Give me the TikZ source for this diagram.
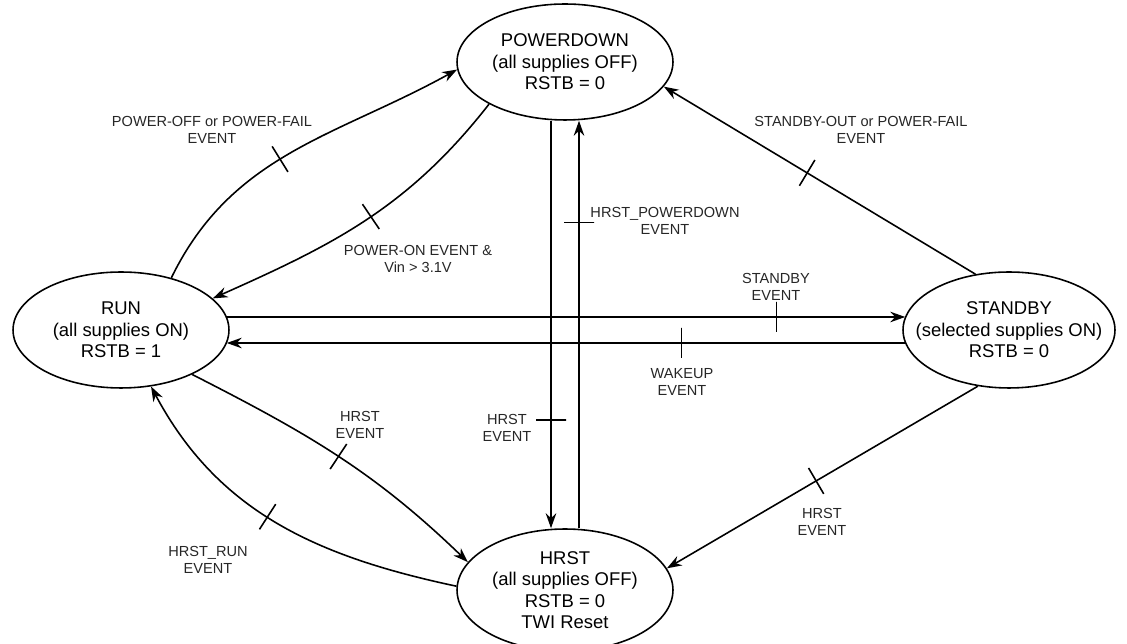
\documentclass[tikz,border=0pt]{standalone}
\usepackage{fontspec}
\setmainfont{Liberation Sans}
\usetikzlibrary{arrows.meta,shapes.geometric}

\begin{document}
\begin{tikzpicture}
[x=0.02cm,y=0.02cm,line width=0.9pt,
	state/.style={ellipse,draw,align=center,inner sep=0pt,minimum width=4.32cm,minimum height=2.32cm,font=\fontsize{10.5}{12.2}\selectfont},
	evt/.style={align=center,text=black!85,font=\fontsize{8.3}{9.6}\selectfont},
	crossbar/.style={sloped,draw,rectangle,inner sep=0pt,minimum width=0pt,minimum height=0.6cm},
	>={Stealth[length=8.5pt,width=6pt]}]
\useasboundingbox (0,0) rectangle (1127,-644);

\node[state] (pd) at (565,-62) {POWERDOWN\\(all supplies OFF)\\RSTB = 0};
\node[state] (run) at (121,-330) {RUN\\(all supplies ON)\\RSTB = 1};
\node[state,minimum width=4.24cm,inner xsep=-11pt] (sb) at (1009,-330) {STANDBY\\(selected supplies ON)\\RSTB = 0};
\node[state,minimum height=2.44cm] (hrst) at (565,-590) {HRST\\(all supplies OFF)\\RSTB = 0\\TWI Reset};

\draw[->] (run.46) to[out=64,in=209] node[crossbar,pos=0.46]{} (pd.184);
\draw[->] (pd.209) to[out=232,in=24] node[crossbar,pos=0.48]{} (run.19);
\draw[->] (sb.121) -- node[crossbar,pos=0.54]{} (pd.-14);
\draw[->] ([shift={(-3,13)}]run.east) -- node[crossbar,pos=0.81]{} ([shift={(3,13)}]sb.west);
\draw[->] ([shift={(3,-13)}]sb.west) -- node[crossbar,pos=0.33]{} ([shift={(-3,-13)}]run.east);
\draw[->] ([shift={(-14,0)}]pd.south) -- node[crossbar,pos=0.735]{} ([shift={(-14,0)}]hrst.north);
\draw[->] ([shift={(14,0)}]hrst.north) -- node[crossbar,pos=0.75]{} ([shift={(14,0)}]pd.south);
\draw[->] (run.-32) to[out=-27,in=136] node[crossbar,pos=0.5]{} (hrst.164);
\draw[->] (hrst.178) to[out=168,in=298] node[crossbar,pos=0.53]{} (run.-62);
\draw[->] (sb.241) -- node[crossbar,pos=0.52]{} (hrst.12);

\node[evt] (offlbl) at (212,-130) {POWER-OFF or POWER-FAIL\\EVENT};
\node[evt] (onlbl) at (418,-259) {POWER-ON EVENT \&\\Vin > 3.1V};
\node[evt] (sboutlbl) at (861,-130) {STANDBY-OUT or POWER-FAIL\\EVENT};
\node[evt] (hpdlbl) at (665,-221) {HRST\_POWERDOWN\\EVENT};
\node[evt] (sblbl) at (776,-287) {STANDBY\\EVENT};
\node[evt] (wakelbl) at (682,-382) {WAKEUP\\EVENT};
\node[evt] (hmidlbl) at (507,-428) {HRST\\EVENT};
\node[evt] (hleftlbl) at (360,-425) {HRST\\EVENT};
\node[evt] (hrunlbl) at (208,-560) {HRST\_RUN\\EVENT};
\node[evt] (hrightlbl) at (822,-522) {HRST\\EVENT};
\end{tikzpicture}
\end{document}
